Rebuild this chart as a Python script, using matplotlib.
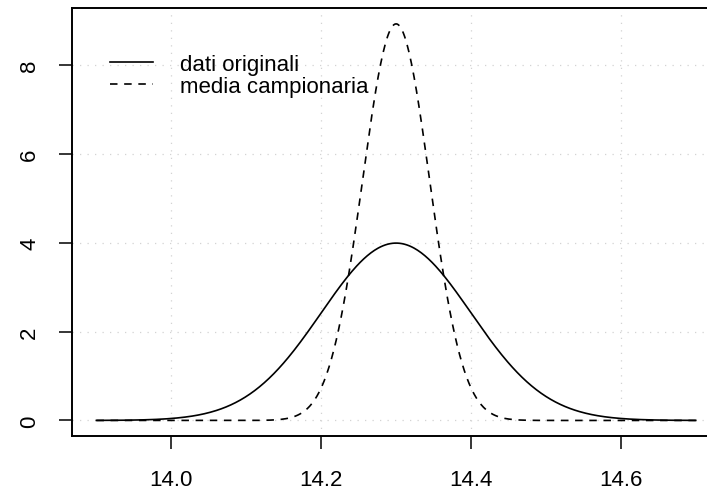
import numpy as np
import matplotlib
matplotlib.use("Agg")
import matplotlib.pyplot as plt

plt.rcParams['font.family'] = ['Liberation Sans', 'DejaVu Sans']

# density parameters of the two curves
labels = ['dati originali', 'media campionaria']
means = [14.3, 14.3]
sds = [0.1, 0.1 / np.sqrt(5)]
styles = ['-', (0, (4.5, 4))]
x_range = [13.9, 14.7]
xticks = [14.0, 14.2, 14.4, 14.6]
yticks = [0, 2, 4, 6, 8]

fig = plt.figure(figsize=(7.07, 4.89), dpi=100)
ax = fig.add_axes([0.1025, 0.1057, 0.9155, 0.8759])

x = np.linspace(x_range[0], x_range[1], 501)
for m, s, ls, lab in zip(means, sds, styles, labels):
    y = np.exp(-0.5 * ((x - m) / s) ** 2) / (s * np.sqrt(2 * np.pi))
    ax.plot(x, y, color='black', lw=1.2, linestyle=ls, label=lab)

ymax = 1 / (sds[1] * np.sqrt(2 * np.pi))
dx = (x_range[1] - x_range[0]) * 0.04
ax.set_xlim(x_range[0] - dx, x_range[1] + dx)
ax.set_ylim(-ymax * 0.04, ymax * 1.04)

ax.set_xticks(xticks)
ax.set_xticklabels(['%.1f' % t for t in xticks])
ax.set_yticks(yticks)
ax.set_yticklabels([str(t) for t in yticks], rotation=90, va='center')
ax.tick_params(length=9.7, width=1.1, pad=13.5, labelsize=16)

for t in xticks:
    ax.axvline(t, color='#d3d3d3', lw=0.9, linestyle=(0, (1, 5)), zorder=0)
for t in yticks:
    ax.axhline(t, color='#d3d3d3', lw=0.9, linestyle=(0, (1, 5)), zorder=0)

for sp in ax.spines.values():
    sp.set_linewidth(1.4)
ax.spines['right'].set_visible(False)

ax.legend(loc='upper left', frameon=False, fontsize=16, handlelength=1.94,
          handletextpad=1.2, labelspacing=0.06, borderaxespad=0, borderpad=0,
          bbox_to_anchor=(0.058, 0.893))

fig.savefig('out.png', dpi=100)
